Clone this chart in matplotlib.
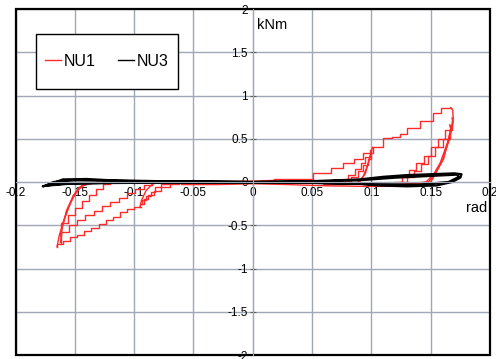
import numpy as np
import matplotlib.pyplot as plt
from matplotlib.patches import Rectangle

plt.rcParams['font.family'] = ['Liberation Sans', 'DejaVu Sans']
plt.rcParams['axes.unicode_minus'] = False

# ---------------- NU1 (red) : stepped loading branches ----------------
# positive, cycles at 0.1 rad
pos_b1_x = [0.072, 0.080, 0.086, 0.091, 0.095, 0.099]
pos_b1_y = [0.02, 0.08, 0.15, 0.22, 0.29, 0.37]
pos_b2_x = [0.076, 0.083, 0.089, 0.093, 0.097, 0.100]
pos_b2_y = [0.01, 0.06, 0.13, 0.20, 0.27, 0.35]
# positive envelope (first large cycle)
pos_env_x = [0.018, 0.051, 0.066, 0.076, 0.085, 0.093, 0.101, 0.110, 0.117, 0.124, 0.130, 0.141, 0.152, 0.159, 0.167]
pos_env_y = [0.035, 0.107, 0.16, 0.22, 0.27, 0.33, 0.40, 0.51, 0.52, 0.56, 0.62, 0.70, 0.80, 0.86, 0.86]
# positive, later large cycles
pos_c2_x = [0.120, 0.126, 0.132, 0.138, 0.144, 0.150, 0.156, 0.162, 0.168]
pos_c2_y = [0.00, 0.06, 0.14, 0.22, 0.30, 0.40, 0.50, 0.60, 0.74]
pos_c3_x = [0.124, 0.130, 0.136, 0.142, 0.148, 0.154, 0.160, 0.166]
pos_c3_y = [0.00, 0.06, 0.13, 0.21, 0.30, 0.40, 0.50, 0.66]
# negative, cycles at -0.1 rad
neg_a1_x = [-0.062, -0.070, -0.077, -0.083, -0.088, -0.092, -0.095]
neg_a1_y = [-0.02, -0.06, -0.10, -0.15, -0.20, -0.25, -0.29]
neg_a2_x = [-0.070, -0.077, -0.082, -0.086, -0.090, -0.093]
neg_a2_y = [-0.02, -0.06, -0.11, -0.16, -0.21, -0.26]
# negative envelope and later large cycles
neg_env_x = [-0.094, -0.100, -0.106, -0.112, -0.118, -0.124, -0.130, -0.136, -0.142, -0.148, -0.154, -0.160, -0.165]
neg_env_y = [-0.29, -0.31, -0.35, -0.40, -0.44, -0.49, -0.53, -0.57, -0.61, -0.64, -0.68, -0.72, -0.75]
neg_c2_x = [-0.085, -0.092, -0.099, -0.106, -0.113, -0.120, -0.127, -0.134, -0.141, -0.148, -0.155, -0.162]
neg_c2_y = [-0.04, -0.08, -0.13, -0.18, -0.23, -0.28, -0.33, -0.38, -0.44, -0.50, -0.58, -0.70]
neg_c3_x = [-0.120, -0.126, -0.132, -0.138, -0.144, -0.150, -0.156, -0.162]
neg_c3_y = [-0.02, -0.08, -0.15, -0.22, -0.30, -0.38, -0.47, -0.62]

# ---------------- NU1 (red) : unloading / return branches ----------------
unl_p1_x = [0.167, 0.1686, 0.169, 0.166, 0.161, 0.155, 0.150, 0.140, 0.120, 0.090, 0.065, 0.030, 0.0, -0.030, -0.060]
unl_p1_y = [0.86, 0.83, 0.735, 0.54, 0.27, 0.12, 0.0, -0.03, -0.05, -0.05, -0.045, -0.03, -0.02, -0.03, -0.03]
unl_p2_x = [0.168, 0.169, 0.166, 0.160, 0.154, 0.148, 0.130, 0.100]
unl_p2_y = [0.74, 0.70, 0.50, 0.26, 0.10, 0.0, -0.03, -0.04]
unl_p3_x = [0.166, 0.167, 0.164, 0.158, 0.152, 0.146, 0.125]
unl_p3_y = [0.66, 0.62, 0.45, 0.22, 0.08, 0.0, -0.03]
unl_p4_x = [0.101, 0.098, 0.095, 0.090, 0.080, 0.060]
unl_p4_y = [0.40, 0.25, 0.10, 0.0, -0.03, -0.03]
unl_p5_x = [0.100, 0.097, 0.093, 0.088, 0.075]
unl_p5_y = [0.35, 0.20, 0.06, -0.01, -0.03]
unl_n1_x = [-0.165, -0.163, -0.158, -0.152, -0.147, -0.142, -0.135, -0.100, -0.050, 0.0, 0.020]
unl_n1_y = [-0.75, -0.61, -0.40, -0.185, -0.09, -0.035, -0.01, 0.0, 0.0, 0.01, 0.02]
unl_n2_x = [-0.162, -0.161, -0.157, -0.151, -0.146, -0.140, -0.120]
unl_n2_y = [-0.70, -0.55, -0.33, -0.15, -0.06, -0.02, 0.0]
unl_n3_x = [-0.162, -0.160, -0.155, -0.149, -0.144, -0.130]
unl_n3_y = [-0.62, -0.47, -0.28, -0.12, -0.04, 0.0]
unl_n4_x = [-0.095, -0.094, -0.090, -0.085, -0.080, -0.060]
unl_n4_y = [-0.29, -0.22, -0.10, -0.03, 0.0, 0.0]

# ---------------- NU3 (black) ----------------
nu3_x = [0.0, 0.05, 0.09, 0.11, 0.13, 0.15, 0.17, 0.176, 0.175, 0.168, 0.155, 0.13, 0.105, 0.09, 0.05, 0.0,
         -0.05, -0.10, -0.15, -0.172, -0.177, -0.17, -0.16, -0.14, -0.12, -0.08, -0.03, 0.0,
         0.05, 0.09, 0.12, 0.15, 0.172, 0.174, 0.165, 0.14, 0.10, 0.05, 0.0, -0.06, -0.12, -0.16, -0.174,
         -0.168, -0.15, -0.10, -0.05, 0.0]
nu3_y = [0.0, 0.01, 0.03, 0.06, 0.08, 0.09, 0.10, 0.09, 0.05, 0.0, -0.04, -0.05, -0.04, -0.02, -0.01, -0.01,
         -0.01, -0.01, -0.015, -0.04, -0.05, -0.02, 0.03, 0.035, 0.02, 0.01, 0.005, 0.0,
         0.005, 0.02, 0.05, 0.07, 0.085, 0.06, 0.0, -0.03, -0.025, -0.01, -0.005, -0.005, -0.01, -0.02, -0.04,
         0.0, 0.02, 0.01, 0.005, 0.0]

steps = [(pos_b1_x, pos_b1_y), (pos_b2_x, pos_b2_y), (pos_env_x, pos_env_y), (pos_c2_x, pos_c2_y),
         (pos_c3_x, pos_c3_y), (neg_a1_x, neg_a1_y), (neg_a2_x, neg_a2_y), (neg_env_x, neg_env_y),
         (neg_c2_x, neg_c2_y), (neg_c3_x, neg_c3_y)]
curves = [(unl_p1_x, unl_p1_y), (unl_p2_x, unl_p2_y), (unl_p3_x, unl_p3_y), (unl_p4_x, unl_p4_y),
          (unl_p5_x, unl_p5_y), (unl_n1_x, unl_n1_y), (unl_n2_x, unl_n2_y), (unl_n3_x, unl_n3_y),
          (unl_n4_x, unl_n4_y)]

fig = plt.figure(figsize=(4.96, 3.59), dpi=100)
ax = fig.add_axes([15.5 / 496, 4 / 359, 474.5 / 496, 346 / 359])

red = '#ff2a2a'
for i, (x, y) in enumerate(steps):
    ax.plot(x, y, drawstyle='steps-post', color=red, lw=1.0, label='NU1' if i == 0 else None)
for x, y in curves:
    ax.plot(x, y, color=red, lw=1.0)
ax.plot(nu3_x, nu3_y, color='black', lw=1.6, label='NU3')

ax.set_xlim(-0.2, 0.2)
ax.set_ylim(-2, 2)
ax.set_xticks(np.arange(-0.2, 0.21, 0.05))
ax.set_yticks(np.arange(-2, 2.01, 0.5))
ax.set_xticklabels(['-0.2', '-0.15', '-0.1', '-0.05', '0', '0.05', '0.1', '0.15', '0.2'])
ax.set_yticklabels(['-2', '-1.5', '-1', '-0.5', '0', '0.5', '1', '1.5', '2'])
ax.grid(True, color='#a0a8b8', lw=1.0)
ax.set_axisbelow(True)

ax.spines['left'].set_position('zero')
ax.spines['bottom'].set_position('zero')
ax.spines['left'].set_color('#a0a8b8')
ax.spines['bottom'].set_color('#a0a8b8')
ax.spines['top'].set_visible(False)
ax.spines['right'].set_visible(False)
ax.tick_params(direction='inout', length=5, width=0.8, color='#606060', labelsize=8.5, pad=1)
ax.add_patch(Rectangle((0, 0), 1, 1, transform=ax.transAxes, fill=False, ec='black', lw=1.6, clip_on=False))

ax.text(0.004, 1.81, 'kNm', fontsize=10.5, ha='left', va='center')
ax.text(0.180, -0.30, 'rad', fontsize=10.5, ha='left', va='center')

# legend box drawn separately (taller padding than legend's own frame)
ax.add_patch(Rectangle((0.043, 0.769), 0.299, 0.159, transform=ax.transAxes, fc='white', ec='black', lw=1.0, zorder=5))
leg = ax.legend(loc='center', bbox_to_anchor=(0.1925, 0.8485), ncol=2, fontsize=11.5, frameon=False,
                handlelength=1.0, handletextpad=0.15, columnspacing=1.4, borderpad=0, borderaxespad=0)
leg.set_zorder(6)
for line in leg.get_lines():
    line.set_linewidth(1.0)

fig.savefig('out.png', dpi=100)
